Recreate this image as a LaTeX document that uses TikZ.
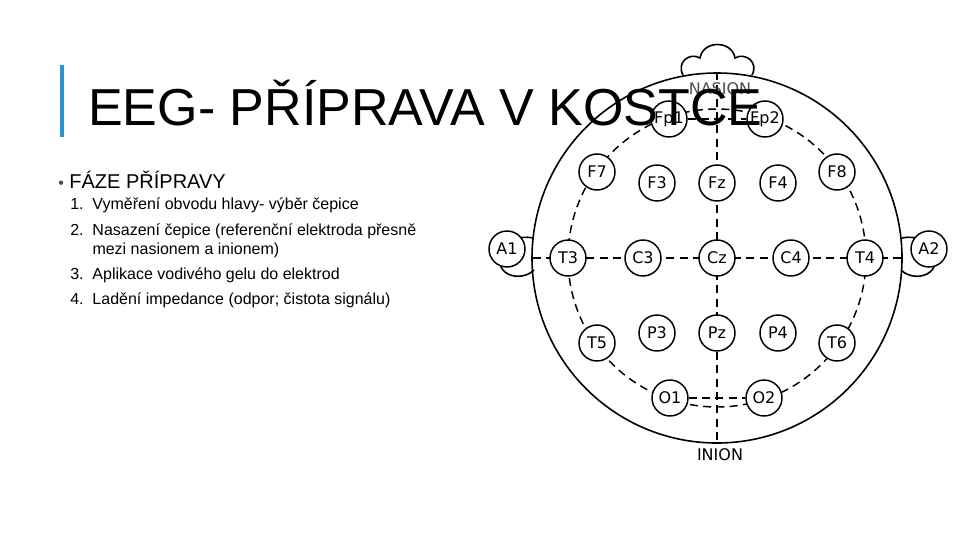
\documentclass[tikz,border=0pt]{standalone}
\usepackage{fontspec}
\setmainfont{Liberation Sans}
\newfontfamily\dejavu{DejaVu Sans}
\usetikzlibrary{positioning}
\definecolor{barblue}{RGB}{41,146,209}
\tikzset{
  electrode/.style={circle,draw,line width=1.1pt,fill=white,minimum size=27pt,inner sep=0pt,font=\dejavu\fontsize{12}{12}\selectfont},
  guide/.style={dash pattern={on 6pt off 4pt},line width=1.1pt},
  listitem/.style={anchor=west,inner sep=0pt,font=\fontsize{12}{14}\selectfont}
}
\begin{document}
\begin{tikzpicture}[x=0.75pt,y=0.75pt,yscale=-1,xscale=1]
\useasboundingbox (0,0) rectangle (960,540);

% head outline, ears and nose
\draw [line width=1.2pt] (683,75) .. controls (676,62) and (690,52) .. (700,58) .. controls (703,40) and (732,40) .. (735,58) .. controls (745,52) and (759,62) .. (752,75);
\draw [line width=1.2pt,fill=white] (717,258) circle (185);
\draw [line width=1.2pt] (533,238) .. controls (505,232) and (492,262) .. (505,272) .. controls (512,278) and (526,278) .. (534,270);
\draw [line width=1.2pt] (902,238) .. controls (930,232) and (943,262) .. (930,272) .. controls (923,278) and (909,278) .. (901,270);

% guide lines
\coordinate (nasion) at (717,72);
\coordinate (inion) at (717,445);
\coordinate (leftedge) at (533,258);
\coordinate (rightedge) at (902,258);
\draw [guide] (nasion) -- (inion);
\draw [guide] (leftedge) -- (rightedge);
\draw [guide] (717,258) circle (149);

% electrodes
\node [electrode] (Fp1) at (669,119) {Fp1};
\node [electrode] (Fp2) at (765,119) {Fp2};
\node [electrode] (F7) at (597,172) {F7};
\node [electrode] (F3) at (657,183) {F3};
\node [electrode] (Fz) at (717,183) {Fz};
\node [electrode] (F4) at (778,183) {F4};
\node [electrode] (F8) at (837,172) {F8};
\node [electrode] (T3) at (568,258) {T3};
\node [electrode] (C3) at (643,258) {C3};
\node [electrode] (Cz) at (717,258) {Cz};
\node [electrode] (C4) at (791,258) {C4};
\node [electrode] (T4) at (865,258) {T4};
\node [electrode] (T5) at (597,343) {T5};
\node [electrode] (P3) at (657,333) {P3};
\node [electrode] (Pz) at (717,333) {Pz};
\node [electrode] (P4) at (778,333) {P4};
\node [electrode] (T6) at (837,343) {T6};
\node [electrode] (O1) at (670,398) {O1};
\node [electrode] (O2) at (764,398) {O2};
\node [electrode] (A1) at (507,249) {A1};
\node [electrode] (A2) at (929,249) {A2};
\draw [guide] (Fp1) -- (Fp2);
\draw [guide] (O1) -- (O2);

% labels
\node [font=\dejavu\fontsize{12}{12}\selectfont,text=black!70] (nasionlabel) at (720,89) {NASION};
\node [font=\dejavu\fontsize{12}{12}\selectfont] (inionlabel) at (720,455) {INION};

% slide text
\fill [barblue] (60,65) rectangle (64,137);
\node [anchor=base west,inner sep=0pt,font=\fontsize{39}{41}\selectfont] (title) at (88,125) {EEG- PŘÍPRAVA V KOSTCE};
\node [anchor=west,inner sep=0pt,font=\fontsize{15}{17}\selectfont] (phase) at (58,180) {\textcolor{black!70}{\fontsize{12}{12}\selectfont\textbullet}\ FÁZE PŘÍPRAVY};
\node [listitem] (item1) at (70,205) {1.\ \ Vyměření obvodu hlavy- výběr čepice};
\node [listitem,anchor=north west] (item2) at (70,222) {\begin{tabular}{@{}l@{\ \ }l@{}}2.&Nasazení čepice (referenční elektroda přesně\\ &mezi nasionem a inionem)\end{tabular}};
\node [listitem] (item3) at (70,275) {3.\ \ Aplikace vodivého gelu do elektrod};
\node [listitem] (item4) at (70,300) {4.\ \ Ladění impedance (odpor; čistota signálu)};
\end{tikzpicture}
\end{document}
